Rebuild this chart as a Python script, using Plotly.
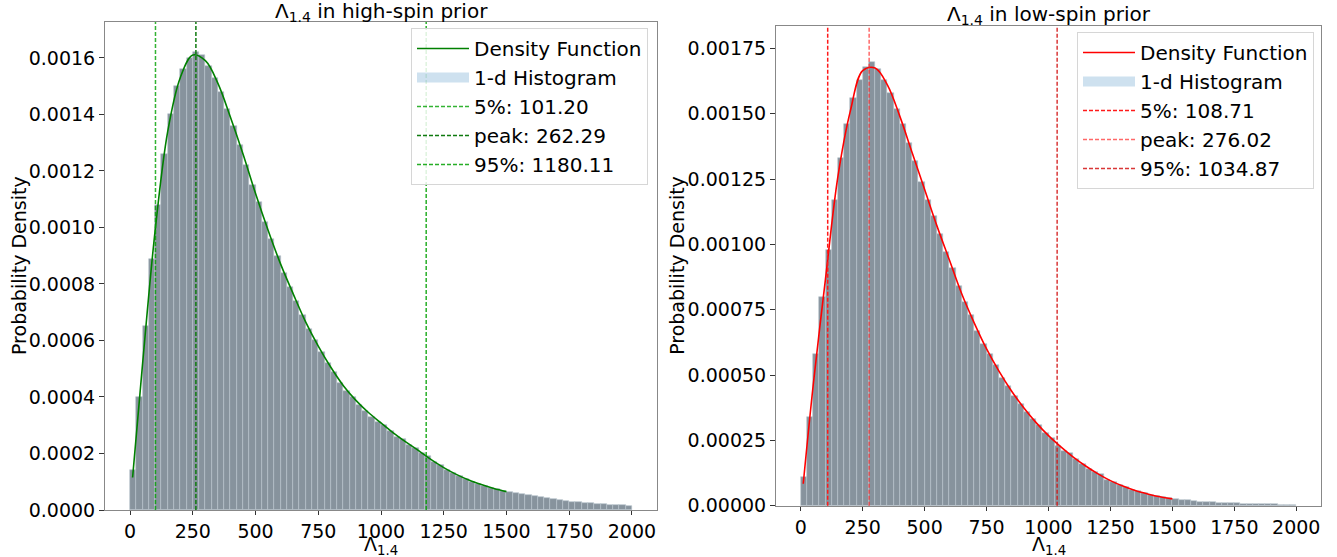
import plotly.graph_objects as go

# ---------------- data ----------------
bin_edges = list(range(0, 2001, 25))
bin_width = 25

hs_hist = [0.00014, 0.00040, 0.00065, 0.00089, 0.00108, 0.00126, 0.00140, 0.00150, 0.00156, 0.00160,
           0.00162, 0.00161, 0.00157, 0.00153, 0.00148, 0.00142, 0.00136, 0.00129, 0.00122, 0.00115,
           0.00109, 0.00102, 0.00096, 0.00090, 0.00084, 0.00079, 0.00074, 0.00069, 0.00064, 0.00060,
           0.00056, 0.00052, 0.00049, 0.00045, 0.00042, 0.00040, 0.00037, 0.00035, 0.00033, 0.00031,
           0.00030, 0.00028, 0.00026, 0.00025, 0.00023, 0.00022, 0.00020, 0.00019, 0.00017, 0.00016,
           0.00014, 0.00013, 0.00012, 0.00011, 0.00010, 0.000092, 0.000085, 0.000079, 0.000073, 0.000068,
           0.000064, 0.000060, 0.000056, 0.000053, 0.000049, 0.000045, 0.000041, 0.000038, 0.000035, 0.000032,
           0.000030, 0.000028, 0.000026, 0.000024, 0.000022, 0.000020, 0.000018, 0.000017, 0.000016, 0.000015]

ls_hist = [0.00011, 0.00034, 0.00058, 0.00080, 0.00098, 0.00117, 0.00133, 0.00146, 0.00156, 0.00163,
           0.00168, 0.00170, 0.00167, 0.00163, 0.00158, 0.00152, 0.00146, 0.00139, 0.00132, 0.00124,
           0.00117, 0.00111, 0.00104, 0.00097, 0.00091, 0.00084, 0.00078, 0.00073, 0.00067, 0.00062,
           0.00058, 0.00054, 0.00049, 0.00046, 0.00042, 0.00039, 0.00036, 0.00033, 0.00031, 0.00028,
           0.00026, 0.00023, 0.00021, 0.00020, 0.00018, 0.00016, 0.00014, 0.00013, 0.00012, 0.00010,
           0.000091, 0.000080, 0.000071, 0.000062, 0.000055, 0.000048, 0.000042, 0.000037, 0.000032, 0.000028,
           0.000025, 0.000022, 0.000020, 0.000018, 0.000016, 0.000015, 0.000013, 0.000012, 0.000011, 0.000010,
           0.0000090, 0.0000082, 0.0000074, 0.0000067, 0.0000060, 0.0000054, 0.0000049, 0.0000044, 0.0000040, 0.0000036]

kde_x = [10, 50, 100, 150, 200, 250, 300, 350, 400, 450, 500, 550, 600, 650, 700, 750, 800,
         850, 900, 950, 1000, 1050, 1100, 1150, 1200, 1250, 1300, 1350, 1400, 1450, 1500]
hs_kde = [0.000115, 0.00052, 0.00099, 0.00134, 0.00153, 0.00161, 0.00159, 0.00151, 0.00139, 0.00126,
          0.00112, 0.00099, 0.00087, 0.000765, 0.000665, 0.00058, 0.000505, 0.00044, 0.000388, 0.000345,
          0.000308, 0.000272, 0.000240, 0.000210, 0.000178, 0.000150, 0.000126, 0.000106, 0.000090,
          0.000076, 0.000065]
ls_kde = [0.000084, 0.00046, 0.00087, 0.00126, 0.00151, 0.001665, 0.001675, 0.00161, 0.00149, 0.00135,
          0.00121, 0.00107, 0.00094, 0.00081, 0.00070, 0.00060, 0.000515, 0.00044, 0.000375, 0.000318,
          0.000268, 0.000225, 0.000186, 0.000152, 0.000122, 0.000096, 0.000075, 0.000058, 0.000045,
          0.000034, 0.000026]

hs_marks = [101.20, 262.29, 1180.11]
ls_marks = [108.71, 276.02, 1034.87]
mark_labels = ["5%", "peak", "95%"]

x_ticks = [0, 250, 500, 750, 1000, 1250, 1500, 1750, 2000]

# ---------------- styles ----------------
FONT = "DejaVu Sans"
FS = 19
LFS = 20
W, H = 1337, 557
BAR_FILL = "#87939d"
BAR_EDGE = "#b9c4cc"
SWATCH = "rgba(31,119,180,0.22)"

panels = [
    dict(hist=hs_hist, kde=hs_kde, marks=hs_marks, line="#008000",
         mark_colors=["rgba(0,160,0,0.8)", "#0f7a0f", "rgba(0,160,0,0.85)"],
         title="Λ<sub>1.4</sub> in high-spin prior", title_y=12, ytitle_x=19,
         xd=(105, 657), yd=(22, 510), yr=0.001727, dt=0.0002, fmt=".4f",
         legend=(411, 28), xa="x", ya="y", lg="legend"),
    dict(hist=ls_hist, kde=ls_kde, marks=ls_marks, line="#ff0000",
         mark_colors=["#ff1a1a", "rgba(255,40,40,0.7)", "rgba(210,20,20,0.85)"],
         title="Λ<sub>1.4</sub> in low-spin prior", title_y=15, ytitle_x=677,
         xd=(776, 1321), yd=(26, 505.7), yr=0.001836, dt=0.00025, fmt=".5f",
         legend=(1077, 32), xa="x2", ya="y2", lg="legend2"),
]

fig = go.Figure()
centers = [(bin_edges[i] + bin_edges[i + 1]) / 2 for i in range(len(bin_edges) - 1)]

layout = dict(width=W, height=H, margin=dict(l=0, r=0, t=0, b=0),
              plot_bgcolor="white", paper_bgcolor="white",
              font=dict(family=FONT, size=FS, color="black"),
              bargap=0, showlegend=True, shapes=[], annotations=[])

for i, p in enumerate(panels):
    xa, ya, lg = p["xa"], p["ya"], p["lg"]
    fig.add_trace(go.Scatter(x=kde_x, y=p["kde"], mode="lines", line=dict(color=p["line"], width=1.6, shape="spline"),
                             name="Density Function", xaxis=xa, yaxis=ya, legend=lg,
                             legendgroup=f"a{i}", legendrank=1))
    fig.add_trace(go.Scatter(x=[None], y=[None], mode="lines", line=dict(color=SWATCH, width=14),
                             name="1-d Histogram", xaxis=xa, yaxis=ya, legend=lg,
                             legendgroup=f"b{i}", legendrank=2))
    fig.add_trace(go.Bar(x=centers, y=p["hist"], width=bin_width, xaxis=xa, yaxis=ya,
                         marker=dict(color=BAR_FILL, line=dict(color=BAR_EDGE, width=0.6)),
                         showlegend=False))
    for j, (v, lab, col) in enumerate(zip(p["marks"], mark_labels, p["mark_colors"])):
        layout["shapes"].append(dict(type="line", xref=xa, yref=f"{ya} domain", x0=v, x1=v, y0=0, y1=1,
                                     line=dict(color=col, width=1.5, dash="4px,2px"),
                                     showlegend=True, name=f"{lab}: {v:.2f}", legend=lg,
                                     legendgroup=f"c{i}{j}", legendrank=3 + j))

    x0, x1 = p["xd"]
    yt, yb = p["yd"]
    axname = "xaxis" if i == 0 else "xaxis2"
    ayname = "yaxis" if i == 0 else "yaxis2"
    layout[axname] = dict(domain=[x0 / W, x1 / W], range=[-100, 2100], anchor=ya,
                          tickvals=x_ticks, ticks="outside", ticklen=4, tickcolor="#333",
                          showline=True, mirror=True, linecolor="#888", linewidth=1,
                          showgrid=False, zeroline=False,
                          tickfont=dict(size=FS), automargin=False)
    layout[ayname] = dict(domain=[1 - yb / H, 1 - yt / H], range=[0, p["yr"]], anchor=xa,
                          dtick=p["dt"], tick0=0, tickformat=p["fmt"], ticks="outside", ticklen=5, tickcolor="#333",
                          showline=True, mirror=True, linecolor="#888", linewidth=1,
                          showgrid=False, zeroline=False,
                          tickfont=dict(size=FS), automargin=False)
    layout["annotations"].append(dict(text="Probability Density", textangle=-90, xref="paper", yref="paper",
                                      x=p["ytitle_x"] / W, y=1 - (yt + yb) / 2 / H,
                                      xanchor="center", yanchor="middle", showarrow=False,
                                      font=dict(size=FS)))
    layout["annotations"].append(dict(text="Λ<sub>1.4</sub>", xref="paper", yref="paper",
                                      x=(x0 + x1) / 2 / W, y=1 - 545 / H,
                                      xanchor="center", yanchor="middle", showarrow=False,
                                      font=dict(size=FS)))
    lx, ly = p["legend"]
    layout[lg] = dict(x=lx / W, y=1 - ly / H, xanchor="left", yanchor="top",
                      bgcolor="rgba(255,255,255,0.85)", bordercolor="#d6d6d6", borderwidth=1,
                      font=dict(family=FONT, size=LFS), tracegroupgap=0, traceorder="grouped",
                      itemwidth=52)
    layout["annotations"].append(dict(text=p["title"], xref="paper", yref="paper",
                                      x=(x0 + x1) / 2 / W, y=1 - p["title_y"] / H,
                                      xanchor="center", yanchor="middle",
                                      showarrow=False, font=dict(size=LFS)))

fig.update_layout(**layout)
fig.write_html("out.html")
